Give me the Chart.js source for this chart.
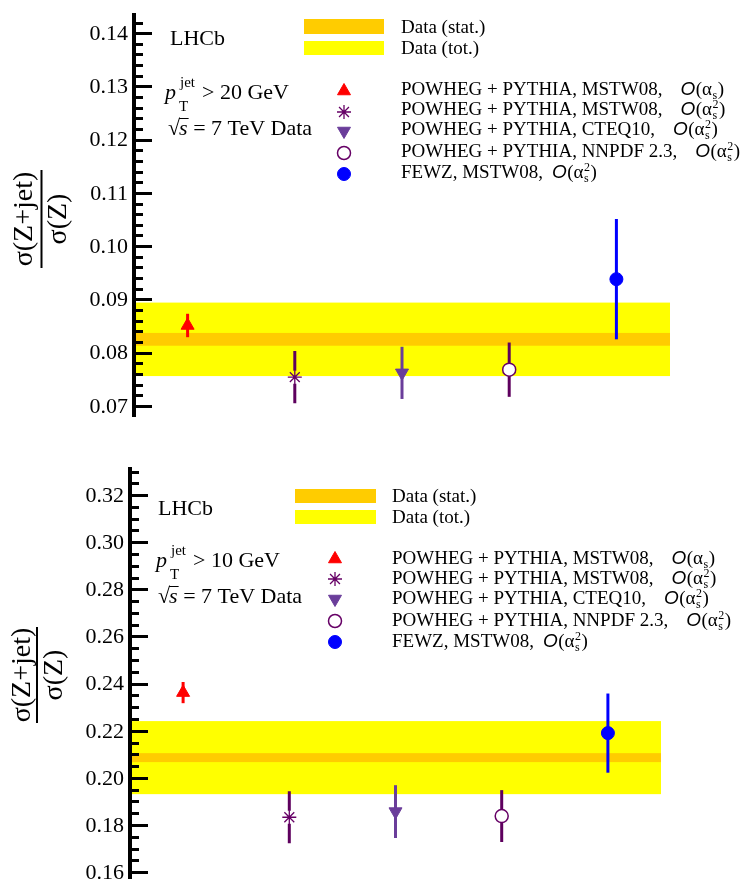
<!DOCTYPE html>
<html>
<head>
<meta charset="utf-8">
<script src="https://cdn.jsdelivr.net/npm/chart.js@4.4.1/dist/chart.umd.min.js"></script>
<style>
html, body { margin: 0; padding: 0; width: 740px; height: 879px; overflow: hidden; background: #ffffff; }
.panel { position: absolute; left: 0; }
</style>
</head>
<body>
<div class="panel" style="top:0px;"><canvas id="topChart" width="740" height="440"></canvas></div>
<div class="panel" style="top:440px;"><canvas id="bottomChart" width="740" height="460"></canvas></div>
<script>
// ---------------- DATA ----------------
const xPositions = [1, 2, 3, 4, 5];
const bandRange = [0.5, 5.5];
const modelNames = [
  'POWHEG + PYTHIA, MSTW08,',
  'POWHEG + PYTHIA, MSTW08,',
  'POWHEG + PYTHIA, CTEQ10,',
  'POWHEG + PYTHIA, NNPDF 2.3,',
  'FEWZ, MSTW08,'
];
const modelOrders = ['', '2', '2', '2', '2'];
const bandLabels = ['Data (stat.)', 'Data (tot.)'];

// pT(jet) > 20 GeV
const pt20Values = [0.0851, 0.0754, 0.0762, 0.0768, 0.0938];
const pt20Errors = [0.0022, 0.0049, 0.0049, 0.0051, 0.0113];
const pt20DataCentral = 0.0825;
const pt20DataStat = 0.0012;
const pt20DataTotal = 0.0069;
const pt20Ticks = [0.07, 0.08, 0.09, 0.10, 0.11, 0.12, 0.13, 0.14];

// pT(jet) > 10 GeV
const pt10Values = [0.2362, 0.1833, 0.1857, 0.1838, 0.2190];
const pt10Errors = [0.0045, 0.0110, 0.0112, 0.0110, 0.0168];
const pt10DataCentral = 0.2086;
const pt10DataStat = 0.0019;
const pt10DataTotal = 0.0155;
const pt10Ticks = [0.16, 0.18, 0.20, 0.22, 0.24, 0.26, 0.28, 0.30, 0.32];

// ---------------- STYLES ----------------
const SERIF = '"Liberation Serif", "Times New Roman", serif';
const SANS = '"Liberation Sans", Arial, sans-serif';
Chart.defaults.font.family = 'Liberation Serif';
const seriesStyles = [
  { pointStyle: 'triangle', radius: 7.5, rotation: 0,   fill: '#ff0000', stroke: '#ff0000', borderWidth: 1,   bar: '#ff0000', gap: 0 },
  { pointStyle: 'star',     radius: 7,   rotation: 0,   fill: 'rgba(0,0,0,0)', stroke: '#660066', borderWidth: 1.3, bar: '#5e005e', gap: 6.5 },
  { pointStyle: 'triangle', radius: 7.5, rotation: 180, fill: '#6a3d9a', stroke: '#6a3d9a', borderWidth: 1,   bar: '#6a3d9a', gap: 0 },
  { pointStyle: 'circle',   radius: 6.5, rotation: 0,   fill: '#ffffff', stroke: '#660066', borderWidth: 1.5, bar: '#5e005e', gap: 0 },
  { pointStyle: 'circle',   radius: 6.5, rotation: 0,   fill: '#0000ff', stroke: '#0000ff', borderWidth: 1,   bar: '#0000ff', gap: 0 }
];

const panels = [
  {
    id: 'top', canvas: 'topChart',
    values: pt20Values, errors: pt20Errors,
    central: pt20DataCentral, stat: pt20DataStat, total: pt20DataTotal,
    ticks: pt20Ticks, minorStep: 0.002, yMin: 0.0681, yMax: 0.1436,
    axisX: 134, pad: { top: 14, bottom: 24, right: 70 },
    ptCut: '> 20 GeV',
    lhcb: [170, 45], pt: [165, 99], sqrt: [168, 135],
    swatch: [304, 384, 19, 34, 41, 55], bandText: [401, 33, 54],
    legendText: 401, legendMarker: 344,
    markerY: [91, 112, 131, 153, 174], textY: [95, 115, 135, 157, 178],
    title: { num: [25, 219], den: [59, 219], barX: 41.5, barY: [170, 268] }
  },
  {
    id: 'bottom', canvas: 'bottomChart',
    values: pt10Values, errors: pt10Errors,
    central: pt10DataCentral, stat: pt10DataStat, total: pt10DataTotal,
    ticks: pt10Ticks, minorStep: 0.005, yMin: 0.152, yMax: 0.3315,
    axisX: 130, pad: { top: 28, bottom: 9, right: 79 },
    ptCut: '> 10 GeV',
    lhcb: [158, 75], pt: [156, 127], sqrt: [158, 163],
    swatch: [295, 376, 49, 63, 70, 84], bandText: [392, 62, 83],
    legendText: 392, legendMarker: 335,
    markerY: [119, 139, 159, 181, 202], textY: [124, 144, 164, 186, 207],
    title: { num: [23, 235], den: [55, 235], barX: 37, barY: [187, 283] }
  }
];

// ---------------- DRAW HELPERS ----------------
function drawMarker(ctx, st, x, y) {
  ctx.save();
  ctx.fillStyle = st.fill;
  ctx.strokeStyle = st.stroke;
  ctx.lineWidth = st.borderWidth;
  if (Chart.helpers && Chart.helpers.drawPoint) {
    Chart.helpers.drawPoint(ctx, { pointStyle: st.pointStyle, radius: st.radius, rotation: st.rotation, borderWidth: st.borderWidth }, x, y);
  }
  ctx.restore();
}

function drawOrder(ctx, x, y, order) {
  // O(alpha_s^order)
  let cx = x;
  ctx.font = 'italic 19px ' + SANS;
  ctx.fillText('O', cx, y); cx += ctx.measureText('O').width + 0.5;
  ctx.font = '19px ' + SERIF;
  ctx.fillText('(', cx, y); cx += ctx.measureText('(').width;
  ctx.fillText('\u03B1', cx, y); cx += ctx.measureText('\u03B1').width + 0.5;
  ctx.font = '12px ' + SERIF;
  ctx.fillText('s', cx, y + 4);
  let w = ctx.measureText('s').width;
  if (order) {
    ctx.fillText(order, cx, y - 7);
    w = Math.max(w, ctx.measureText(order).width);
  }
  cx += w + 0.5;
  ctx.font = '19px ' + SERIF;
  ctx.fillText(')', cx, y);
}

function panelPlugin(p) {
  return {
    id: 'panel_' + p.id,
    beforeDatasetsDraw(chart) {
      const { ctx, scales: { x, y } } = chart;
      const xl = x.getPixelForValue(bandRange[0]);
      const xr = x.getPixelForValue(bandRange[1]);
      ctx.save();
      let t = y.getPixelForValue(p.central + p.total);
      let b = y.getPixelForValue(p.central - p.total);
      ctx.fillStyle = '#ffff00';
      ctx.fillRect(xl, t, xr - xl, b - t);
      t = y.getPixelForValue(p.central + p.stat);
      b = y.getPixelForValue(p.central - p.stat);
      ctx.fillStyle = '#ffcc00';
      ctx.fillRect(xl, t, xr - xl, b - t);
      // error bars
      ctx.lineWidth = 3;
      ctx.lineCap = 'butt';
      xPositions.forEach((xv, i) => {
        const st = seriesStyles[i];
        const px = x.getPixelForValue(xv);
        const py = y.getPixelForValue(p.values[i]);
        const top = y.getPixelForValue(p.values[i] + p.errors[i]);
        const bot = y.getPixelForValue(p.values[i] - p.errors[i]);
        ctx.strokeStyle = st.bar;
        ctx.beginPath();
        if (st.gap > 0) {
          ctx.moveTo(px, top); ctx.lineTo(px, py - st.gap);
          ctx.moveTo(px, py + st.gap); ctx.lineTo(px, bot);
        } else {
          ctx.moveTo(px, top); ctx.lineTo(px, bot);
        }
        ctx.stroke();
      });
      ctx.restore();
    },
    afterDraw(chart) {
      const { ctx, chartArea, scales: { y } } = chart;
      ctx.save();
      // axis line
      ctx.strokeStyle = '#000';
      ctx.lineWidth = 4;
      ctx.beginPath();
      ctx.moveTo(chartArea.left, chartArea.top - 1);
      ctx.lineTo(chartArea.left, chartArea.bottom + 1);
      ctx.stroke();
      // ticks (inside)
      ctx.lineWidth = 3;
      const kmin = Math.ceil(p.yMin / p.minorStep - 1e-6);
      const kmax = Math.floor(p.yMax / p.minorStep + 1e-6);
      for (let k = kmin; k <= kmax; k++) {
        const v = k * p.minorStep;
        const isMajor = p.ticks.some(tv => Math.abs(tv - v) < p.minorStep / 10);
        const py = Math.round(y.getPixelForValue(v)) + 0.5;
        ctx.beginPath();
        ctx.moveTo(chartArea.left, py);
        ctx.lineTo(chartArea.left + (isMajor ? 18 : 9), py);
        ctx.stroke();
      }
      // tick labels
      ctx.fillStyle = '#000';
      ctx.font = '22px ' + SERIF;
      ctx.textAlign = 'right';
      ctx.textBaseline = 'middle';
      p.ticks.forEach(tv => {
        ctx.fillText(tv.toFixed(2), chartArea.left - 6, y.getPixelForValue(tv) + 1);
      });
      // texts
      ctx.textBaseline = 'alphabetic';
      ctx.textAlign = 'left';
      ctx.font = '22px ' + SERIF;
      ctx.fillText('LHCb', p.lhcb[0], p.lhcb[1]);
      // p_T^jet
      ctx.font = 'italic 22px ' + SERIF;
      ctx.fillText('p', p.pt[0], p.pt[1]);
      ctx.font = '15px ' + SERIF;
      ctx.fillText('jet', p.pt[0] + 15, p.pt[1] - 12);
      ctx.fillText('T', p.pt[0] + 14, p.pt[1] + 12);
      ctx.font = '22px ' + SERIF;
      ctx.fillText(p.ptCut, p.pt[0] + 37, p.pt[1]);
      // sqrt(s)
      let sx = p.sqrt[0];
      ctx.font = '22px ' + SERIF;
      ctx.fillText('\u221A', sx, p.sqrt[1]);
      sx += ctx.measureText('\u221A').width - 1;
      ctx.font = 'italic 22px ' + SERIF;
      ctx.fillText('s', sx, p.sqrt[1]);
      const sw = ctx.measureText('s').width;
      ctx.lineWidth = 1;
      ctx.beginPath();
      ctx.moveTo(sx, p.sqrt[1] - 16.5);
      ctx.lineTo(sx + sw + 1, p.sqrt[1] - 16.5);
      ctx.stroke();
      sx += sw;
      ctx.font = '22px ' + SERIF;
      ctx.fillText(' = 7 TeV Data', sx, p.sqrt[1]);
      // band legend
      ctx.fillStyle = '#ffcc00';
      ctx.fillRect(p.swatch[0], p.swatch[2], p.swatch[1] - p.swatch[0], p.swatch[3] - p.swatch[2]);
      ctx.fillStyle = '#ffff00';
      ctx.fillRect(p.swatch[0], p.swatch[4], p.swatch[1] - p.swatch[0], p.swatch[5] - p.swatch[4]);
      ctx.fillStyle = '#000';
      ctx.font = '19px ' + SERIF;
      ctx.fillText(bandLabels[0], p.bandText[0], p.bandText[1]);
      ctx.fillText(bandLabels[1], p.bandText[0], p.bandText[2]);
      // model legend
      modelNames.forEach((name, i) => {
        drawMarker(ctx, seriesStyles[i], p.legendMarker, p.markerY[i]);
        ctx.fillStyle = '#000';
        ctx.font = '19px ' + SERIF;
        ctx.fillText(name, p.legendText, p.textY[i]);
        const w = ctx.measureText(name).width;
        drawOrder(ctx, p.legendText + w + (i === 4 ? 9 : 18), p.textY[i], modelOrders[i]);
      });
      // y title (fraction)
      ctx.font = '28px ' + SERIF;
      ctx.textAlign = 'center';
      ctx.textBaseline = 'middle';
      ctx.save();
      ctx.translate(p.title.num[0], p.title.num[1]);
      ctx.rotate(-Math.PI / 2);
      ctx.fillText('\u03C3(Z+jet)', 0, 0);
      ctx.restore();
      ctx.save();
      ctx.translate(p.title.den[0], p.title.den[1]);
      ctx.rotate(-Math.PI / 2);
      ctx.fillText('\u03C3(Z)', 0, 0);
      ctx.restore();
      ctx.lineWidth = 2;
      ctx.beginPath();
      ctx.moveTo(p.title.barX, p.title.barY[0]);
      ctx.lineTo(p.title.barX, p.title.barY[1]);
      ctx.stroke();
      ctx.restore();
    }
  };
}

function buildPanel(p) {
  const datasets = xPositions.map((xv, i) => ({
    data: [{ x: xv, y: p.values[i] }],
    pointStyle: seriesStyles[i].pointStyle,
    pointRadius: seriesStyles[i].radius,
    pointRotation: seriesStyles[i].rotation,
    pointBackgroundColor: seriesStyles[i].fill,
    pointBorderColor: seriesStyles[i].stroke,
    pointBorderWidth: seriesStyles[i].borderWidth,
    showLine: false
  }));
  return new Chart(document.getElementById(p.canvas), {
    type: 'scatter',
    data: { datasets },
    options: {
      responsive: false,
      animation: false,
      events: [],
      layout: { padding: { left: 0, right: p.pad.right, top: p.pad.top, bottom: p.pad.bottom } },
      plugins: { legend: { display: false }, tooltip: { enabled: false } },
      scales: {
        x: { type: 'linear', display: false, min: bandRange[0], max: bandRange[1] },
        y: {
          type: 'linear', position: 'left', min: p.yMin, max: p.yMax,
          afterFit: (s) => { s.width = p.axisX; },
          afterBuildTicks: (s) => { s.ticks = p.ticks.map(v => ({ value: v })); },
          grid: { display: false, drawTicks: false },
          border: { display: false },
          ticks: { display: false }
        }
      }
    },
    plugins: [panelPlugin(p)]
  });
}

panels.forEach(buildPanel);
</script>
</body>
</html>
